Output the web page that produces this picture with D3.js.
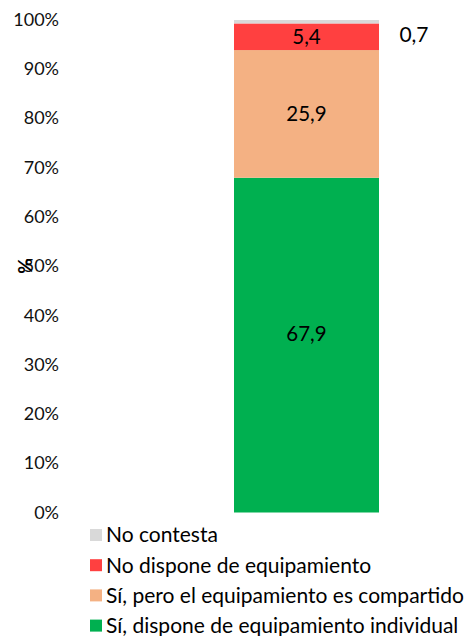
<!DOCTYPE html>
<html>
<head>
<meta charset="utf-8">
<script src="https://cdn.jsdelivr.net/npm/d3@7"></script>
<style>
  body { margin: 0; background: #fff; }
  text { font-family: Lato, "Open Sans", sans-serif; }
</style>
</head>
<body>
<div id="chart"></div>
<script>
const width = 471, height = 636;

// series, bottom to top
const seriesNames = ["Sí, dispone de equipamiento individual", "Sí, pero el equipamiento es compartido", "No dispone de equipamiento", "No contesta"];
const seriesValues = [67.9, 25.9, 5.4, 0.7];
const seriesColors = ["#00b050", "#f4b183", "#ff4040", "#d9d9d9"];
const valueLabels = ["67,9", "25,9", "5,4", "0,7"];
const yTicks = [0, 10, 20, 30, 40, 50, 60, 70, 80, 90, 100];

const svg = d3.select("#chart").append("svg")
    .attr("width", width)
    .attr("height", height);

const y = d3.scaleLinear().domain([0, 100]).range([512.5, 19.5]);

// y axis tick labels
svg.append("g")
    .attr("transform", "translate(59,0)")
    .call(d3.axisLeft(y).tickValues(yTicks).tickSize(0).tickPadding(0).tickFormat(d => d + "%"))
    .call(g => g.select(".domain").remove())
    .selectAll("text")
    .attr("font-size", 18)
    .attr("font-family", "Lato, sans-serif")
    .attr("fill", "#111");

// axis title "%"
svg.append("text")
    .attr("transform", `translate(25,${y(50)}) rotate(-90)`)
    .attr("text-anchor", "middle")
    .attr("dy", "0.35em")
    .attr("font-size", 19)
    .attr("font-weight", "bold")
    .attr("fill", "#000")
    .text("%");

// stack
let acc = 0;
const segs = seriesValues.map((v, i) => {
    const s = { name: seriesNames[i], value: v, y0: acc, y1: acc + v, color: seriesColors[i], label: valueLabels[i] };
    acc += v;
    return s;
});

const bx = 234, bw = 145;
svg.append("g").selectAll("rect")
    .data(segs)
    .enter().append("rect")
    .attr("x", bx)
    .attr("width", bw)
    .attr("y", d => y(d.y1))
    .attr("height", d => y(d.y0) - y(d.y1))
    .attr("fill", d => d.color);

// value labels
svg.append("g").selectAll("text")
    .data(segs)
    .enter().append("text")
    .attr("x", (d, i) => i === 3 ? 414 : bx + bw / 2)
    .attr("y", (d, i) => i === 3 ? 35 : (i === 0 ? y(36.3) : y((d.y0 + d.y1) / 2)))
    .attr("dy", "0.35em")
    .attr("text-anchor", "middle")
    .attr("font-size", (d, i) => i === 3 ? 21 : 20.5)
    .attr("fill", "#000")
    .text(d => d.label);

// legend, top to bottom
const legendItems = segs.slice().reverse();
const legend = svg.append("g").selectAll("g")
    .data(legendItems)
    .enter().append("g")
    .attr("transform", (d, i) => `translate(90,${535 + i * 30.2})`);

legend.append("rect")
    .attr("x", 0)
    .attr("y", -6)
    .attr("width", 12)
    .attr("height", 12)
    .attr("fill", d => d.color);

legend.append("text")
    .attr("x", 16)
    .attr("dy", "0.35em")
    .attr("font-size", 21)
    .attr("fill", "#000")
    .text(d => d.name);
</script>
</body>
</html>
